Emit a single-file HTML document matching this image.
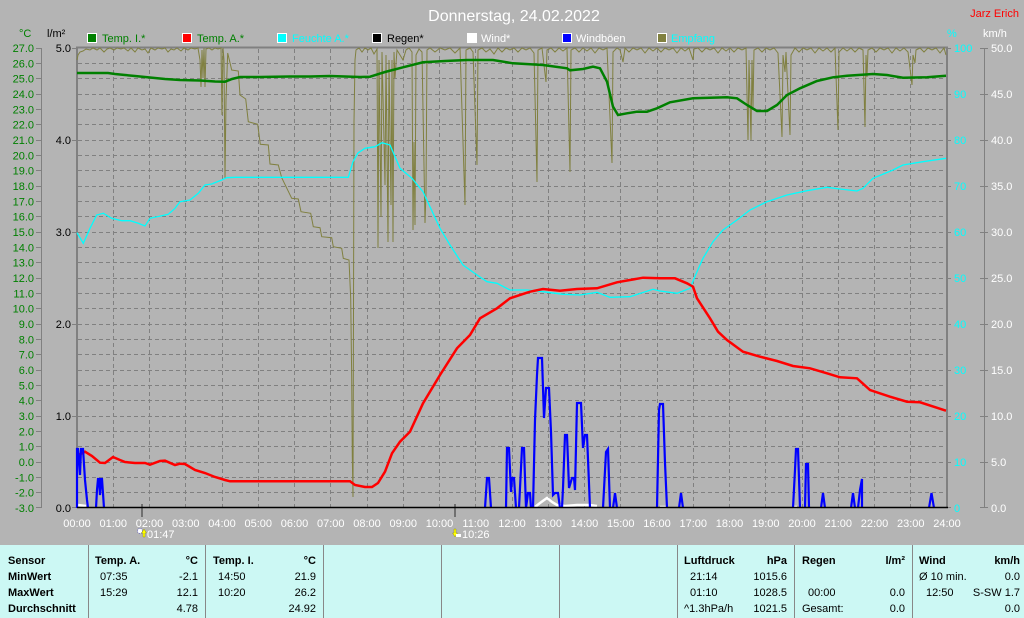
<!DOCTYPE html>
<html><head><meta charset="utf-8"><style>
html,body{margin:0;padding:0;background:#b4b4b4;}
svg{display:block;font-family:"Liberation Sans",Arial,sans-serif;}
</style></head><body>
<svg width="1024" height="618" viewBox="0 0 1024 618" xmlns="http://www.w3.org/2000/svg">
<rect x="0" y="0" width="1024" height="618" fill="#b4b4b4"/>
<!-- title -->
<text x="514" y="21" font-size="16" fill="#ffffff" text-anchor="middle">Donnerstag, 24.02.2022</text>
<text x="1019" y="17" font-size="11" fill="#ff0000" text-anchor="end">Jarz Erich</text>
<!-- axis headers -->
<text x="19" y="37" font-size="11" fill="#008000">°C</text>
<text x="47" y="37" font-size="11" fill="#000000">l/m²</text>
<text x="947" y="37" font-size="11" fill="#00ffff">%</text>
<text x="983" y="37" font-size="11" fill="#ffffff">km/h</text>
<!-- legend -->
<g font-size="11">
<rect x="87.5" y="33.5" width="9" height="9" fill="#008000" stroke="#fff"/><text x="102" y="42" fill="#008000">Temp. I.*</text>
<rect x="182.5" y="33.5" width="9" height="9" fill="#ff0000" stroke="#fff"/><text x="197" y="42" fill="#008000">Temp. A.*</text>
<rect x="277.5" y="33.5" width="9" height="9" fill="#00ffff" stroke="#fff"/><text x="292" y="42" fill="#00ffff">Feuchte A.*</text>
<rect x="372.5" y="33.5" width="9" height="9" fill="#000000" stroke="#fff"/><text x="387" y="42" fill="#000000">Regen*</text>
<rect x="467.5" y="33.5" width="9" height="9" fill="#ffffff" stroke="#fff"/><text x="481" y="42" fill="#ffffff">Wind*</text>
<rect x="562.5" y="33.5" width="9" height="9" fill="#0000ff" stroke="#fff"/><text x="576" y="42" fill="#ffffff">Windböen</text>
<rect x="657.5" y="33.5" width="9" height="9" fill="#808040" stroke="#fff"/><text x="671" y="42" fill="#00ffff">Empfang</text>
</g>
<!-- grid -->
<g stroke="#808080" stroke-width="1" stroke-dasharray="4,3" fill="none" shape-rendering="crispEdges">
<path d="M78 63.5H946M78 78.5H946M78 94.5H946M78 109.5H946M78 124.5H946M78 140.5H946M78 155.5H946M78 170.5H946M78 186.5H946M78 201.5H946M78 216.5H946M78 232.5H946M78 247.5H946M78 262.5H946M78 278.5H946M78 293.5H946M78 308.5H946M78 324.5H946M78 339.5H946M78 354.5H946M78 370.5H946M78 385.5H946M78 400.5H946M78 416.5H946M78 431.5H946M78 446.5H946M78 462.5H946M78 477.5H946M78 492.5H946"/>
<path d="M113.5 49V507M149.5 49V507M185.5 49V507M222.5 49V507M258.5 49V507M294.5 49V507M330.5 49V507M367.5 49V507M403.5 49V507M439.5 49V507M475.5 49V507M512.5 49V507M548.5 49V507M584.5 49V507M620.5 49V507M657.5 49V507M693.5 49V507M729.5 49V507M765.5 49V507M802.5 49V507M838.5 49V507M874.5 49V507M910.5 49V507"/>
</g>
<!-- left temperature axis -->
<g stroke="#808080" stroke-width="1" fill="none" shape-rendering="crispEdges">
<path d="M41.5 48V508"/>
<path d="M36 48.5H41M36 63.5H41M36 78.5H41M36 94.5H41M36 109.5H41M36 124.5H41M36 140.5H41M36 155.5H41M36 170.5H41M36 186.5H41M36 201.5H41M36 216.5H41M36 232.5H41M36 247.5H41M36 262.5H41M36 278.5H41M36 293.5H41M36 308.5H41M36 324.5H41M36 339.5H41M36 354.5H41M36 370.5H41M36 385.5H41M36 400.5H41M36 416.5H41M36 431.5H41M36 446.5H41M36 462.5H41M36 477.5H41M36 492.5H41M36 507.5H41"/>
<path d="M72 48.5H77M72 140.5H77M72 232.5H77M72 324.5H77M72 416.5H77M72 507.5H77"/>
<path d="M947 48.5H951M947 94.5H951M947 140.5H951M947 186.5H951M947 232.5H951M947 278.5H951M947 324.5H951M947 370.5H951M947 416.5H951M947 462.5H951M947 507.5H951"/>
<path d="M984.5 48V508"/>
<path d="M980 48.5H988M980 94.5H988M980 140.5H988M980 186.5H988M980 232.5H988M980 278.5H988M980 324.5H988M980 370.5H988M980 416.5H988M980 462.5H988M980 507.5H988"/>
</g>
<g font-size="11" fill="#008000" text-anchor="end">
<text x="34" y="52">27.0</text><text x="34" y="67.3">26.0</text><text x="34" y="82.7">25.0</text><text x="34" y="98">24.0</text><text x="34" y="113.3">23.0</text><text x="34" y="128.7">22.0</text><text x="34" y="144">21.0</text><text x="34" y="159.3">20.0</text><text x="34" y="174.7">19.0</text><text x="34" y="190">18.0</text><text x="34" y="205.3">17.0</text><text x="34" y="220.7">16.0</text><text x="34" y="236">15.0</text><text x="34" y="251.3">14.0</text><text x="34" y="266.7">13.0</text><text x="34" y="282">12.0</text><text x="34" y="297.3">11.0</text><text x="34" y="312.7">10.0</text><text x="34" y="328">9.0</text><text x="34" y="343.3">8.0</text><text x="34" y="358.7">7.0</text><text x="34" y="374">6.0</text><text x="34" y="389.3">5.0</text><text x="34" y="404.7">4.0</text><text x="34" y="420">3.0</text><text x="34" y="435.3">2.0</text><text x="34" y="450.7">1.0</text><text x="34" y="466">0.0</text><text x="34" y="481.3">-1.0</text><text x="34" y="496.7">-2.0</text><text x="34" y="512">-3.0</text>
</g>
<g font-size="11" fill="#000000" text-anchor="end">
<text x="71" y="52">5.0</text><text x="71" y="144">4.0</text><text x="71" y="236">3.0</text><text x="71" y="328">2.0</text><text x="71" y="420">1.0</text><text x="71" y="512">0.0</text>
</g>
<g font-size="11" fill="#00ffff">
<text x="954" y="52">100</text><text x="954" y="98">90</text><text x="954" y="144">80</text><text x="954" y="190">70</text><text x="954" y="236">60</text><text x="954" y="282">50</text><text x="954" y="328">40</text><text x="954" y="374">30</text><text x="954" y="420">20</text><text x="954" y="466">10</text><text x="954" y="512">0</text>
</g>
<g font-size="11" fill="#ffffff">
<text x="991" y="52">50.0</text><text x="991" y="98">45.0</text><text x="991" y="144">40.0</text><text x="991" y="190">35.0</text><text x="991" y="236">30.0</text><text x="991" y="282">25.0</text><text x="991" y="328">20.0</text><text x="991" y="374">15.0</text><text x="991" y="420">10.0</text><text x="991" y="466">5.0</text><text x="991" y="512">0.0</text>
</g>
<!-- time labels -->
<g font-size="11" fill="#ffffff" text-anchor="middle">
<text x="77" y="527">00:00</text><text x="113.25" y="527">01:00</text><text x="149.5" y="527">02:00</text><text x="185.75" y="527">03:00</text><text x="222" y="527">04:00</text><text x="258.25" y="527">05:00</text><text x="294.5" y="527">06:00</text><text x="330.75" y="527">07:00</text><text x="367" y="527">08:00</text><text x="403.25" y="527">09:00</text><text x="439.5" y="527">10:00</text><text x="475.75" y="527">11:00</text><text x="512" y="527">12:00</text><text x="548.25" y="527">13:00</text><text x="584.5" y="527">14:00</text><text x="620.75" y="527">15:00</text><text x="657" y="527">16:00</text><text x="693.25" y="527">17:00</text><text x="729.5" y="527">18:00</text><text x="765.75" y="527">19:00</text><text x="802" y="527">20:00</text><text x="838.25" y="527">21:00</text><text x="874.5" y="527">22:00</text><text x="910.75" y="527">23:00</text><text x="947" y="527">24:00</text>
</g>
<!-- sunrise / sunset markers -->
<rect x="141" y="504" width="2" height="13" fill="#707070"/>
<rect x="454" y="504" width="2" height="13" fill="#707070"/>
<circle cx="140" cy="531" r="2.5" fill="#ffffff" stroke="#6060c0" stroke-width="0.8" stroke-dasharray="1,1"/>
<path d="M144 529 L141.5 533 L143 533 L143 537 L145 537 L145 533 L146.5 533 Z" fill="#ffff00" stroke="#808000" stroke-width="0.4"/>
<text x="147" y="538" font-size="11" fill="#ffffff">01:47</text>
<path d="M455 537 L452.5 533 L454 533 L454 529 L456 529 L456 533 L457.5 533 Z" fill="#ffff00" stroke="#808000" stroke-width="0.4"/>
<rect x="456" y="534" width="5" height="3" fill="#ffffff"/>
<text x="462" y="538" font-size="11" fill="#ffffff">10:26</text>
<!-- plot frame -->
<path d="M76 47.5H948" stroke="#808080" stroke-width="2" fill="none"/>
<path d="M77 47V508" stroke="#808080" stroke-width="2" fill="none"/>
<path d="M947 47V508" stroke="#808080" stroke-width="2" fill="none"/>
<!-- Empfang (olive) -->
<polyline fill="none" stroke="#808040" stroke-width="1" stroke-linejoin="miter" points="77,60 78,55 80,52 83,51 86,49 90,50 93,48 97,50 100,48 104,52 107,49 110,48 114,50 117,48 121,49 124,48 128,51 131,48 135,52 138,48 142,50 145,49 148,53 151,48 155,50 158,48 162,49 165,48 168,52 171,49 174,50 177,48 181,51 184,48 188,50 191,48 195,49 198,48 200,60 201,87 202,50 203,78 204,48 205,87 206,49 209,48 212,50 215,48 218,49 221,48 222,115 223,48 224,60 225,178 226,100 227.7,53 231.7,70 238.3,71 240,95 245.7,99 248.3,121.7 257.7,124.3 260.3,144.3 268.3,145 270,164 278.3,165 281.7,177.7 291.7,198.3 298.3,199 301,211.7 310.7,213.3 313.3,226.7 320,227.7 321.7,236.7 331.7,237.7 333.3,246.7 341.7,248.3 343.3,258.3 349,260 350.7,298.3 351.7,378 352.3,457 353,497 354,122 355,60 356,50 359,48 362,52 365,48 368,50 371,48 374,54 377,49 378,248 379,60 381,217 382,52 385,185 386,55 388,242 389,60 391,205 392,60 393,242 394,52 395,78 397,50 400,55 403,60 406,50 409,48 412,52 413,230 414,142 415,225 416,55 419,49 422,52 425,223 426,193 427,50 430,48 435,52 440,48 445,50 450,48 455,53 460,48 465,205 466,50 470,48 473,52 477,165 478,50 482,48 486,52 490,49 494,54 498,48 502,52 506,48 510,50 514,48 518,52 522,48 526,50 530,48 534,53 537,182 538,50 542,48 546,82 547,50 551,48 555,52 559,48 563,51 567,48 570,172 571,50 575,48 579,52 583,48 587,51 591,48 595,53 599,48 603,50 607,48 612,163 613,52 617,48 620,50 623,62 625,48 629,52 633,48 637,50 641,48 645,53 649,48 653,51 657,48 661,52 665,48 669,50 673,48 677,53 681,48 685,51 689,48 693,60 694,49 698,48 702,52 706,48 710,50 714,48 718,53 722,48 726,51 730,48 734,52 738,48 742,50 746,48 748,140 749,60 751,140 752,60 753,108 754,50 758,48 762,52 766,48 770,50 774,48 778,53 782,137 783,55 785,72 786,52 790,135 791,55 795,48 799,52 803,48 807,50 811,48 815,53 819,48 823,51 827,48 831,52 835,48 838,130 839,52 843,48 847,51 851,48 855,52 859,48 863,50 865,127 866,55 867,77 868,50 872,48 876,52 880,48 884,50 888,48 892,53 896,48 900,51 904,48 908,52 912,85 913,55 915,63 916,50 920,48 924,52 928,48 932,50 936,48 940,53 944,48 946,55"/>
<!-- Feuchte (cyan) -->
<polyline fill="none" stroke="#00ffff" stroke-width="1.3" points="77,232.7 83.3,243.3 90,228.3 96.7,215 103.3,213.3 111.7,218.3 121.7,220.7 130,220.7 138.3,223.3 145,226 150,218.3 161.7,215.7 168.3,214.3 175,208.3 180,201.7 190,200 198.3,193.3 205,185 211.7,184 221.7,180 226.7,177.7 235,177.3 348.3,177.3 353,161.7 358,153 365,148.3 375,146.7 382,142.7 390,145 400,168.3 412,178.3 423,191.7 440,228.3 450,245 463,265 477,275 487,281.7 497,283.3 510,290 527,290 543,291.7 563,294.3 580,295 597,292.3 610,297.3 630,296.7 653,289.3 660,291 677,293.3 690,288.3 697,271.7 703,258.3 713,241.7 723,230 737,220 750,210 767,201.7 787,195 807,190.7 827,187.3 840,189 857,191 863,188.3 873,178.3 893,170 903,165 923,161.7 946,158.3"/>
<!-- Temp I (green) -->
<polyline fill="none" stroke="#008000" stroke-width="2.5" points="77,73 108,73 115,74 125,75 135,76 150,77.5 165,79 180,80 200,80.5 215,81.5 225,81.7 232,79 240,77 260,77 290,76.5 310,76.5 330,76 345,76.5 360,77 370,76.7 385,72 403,67.3 423,62.3 445,61 467,60 493,60 513,63.3 543,65 567,68.3 570,70.3 583,69 593,66.7 600,68.3 607,81.7 613,106.7 618,115 627,113.3 637,111.7 647,111.7 657,108.3 670,102.3 693,98.3 727,97.3 737,98.3 747,105 757,111 767,111 777,105 787,95 800,88.3 817,81 833,77.3 847,75.7 873,74 887,75 903,77.7 927,77.3 946,75.7"/>
<!-- Temp A (red) -->
<polyline fill="none" stroke="#ff0000" stroke-width="2.5" points="77,455.7 85,451.7 92,456 100,462.7 105,463 113,457 120,460 125,462 135,463 145,463 150,464.7 160,461 165,460.7 175,465 180,463.7 185,464 195,470 205,473 215,477 225,480 230,481.3 350,481.3 355,485 365,487 372,487 378,483 385,471.7 392,453.3 400,441.7 410,431.7 423,403.3 440,375 457,348.3 470,335 480,318.3 497,308.3 510,298.3 530,291.7 543,289 560,290.7 577,289 597,288.3 617,282.3 643,277.7 660,278.3 675,278.3 687,283.3 693,286.7 697,298.3 710,318.3 718,331.7 727,340 743,351.7 760,356.7 777,361 793,366 810,368.3 827,373.3 840,377.3 857,378.3 870,390 890,396.7 907,401.7 920,402.3 946,410.7"/>
<!-- Wind (white) -->
<g fill="none" stroke="#ffffff" stroke-width="2.5">
<polyline points="78,505 86,506"/>
<polyline points="535,507 540,503 547,498 552,502 557,505 565,506 577,505 590,505 597,506"/>
<polyline points="660,507 667,507"/>
<polyline points="793,507 797,507"/>
</g>
<!-- Windboeen (blue) -->
<g fill="none" stroke="#0000ff" stroke-width="2.2" stroke-linejoin="miter">
<polyline points="77,508 77,449 78,449 80,475 81,449 83,449 85,480 87,500 88,508"/>
<polyline points="96,508 97,490 98,479 99,479 100,495 101,479 102,479 104,508"/>
<polyline points="485,508 487,478 489,478 491,508"/>
<polyline points="506,508 507,448 509,448 511,492 512,478 514,478 516,508"/>
<polyline points="519,508 522,448 524,448 526,508 528,493 530,493 531,508"/>
<polyline points="533,508 535,420 537,375 538,358 542,358 544,418 546,388 549,388 551,432 553,495 555,493 558,493 560,508"/>
<polyline points="562,508 563,488 565,435 567,435 569,488 572,478 574,478 575,490 577,403 581,403 583,448 585,435 587,435 590,508"/>
<polyline points="603,508 606,452 608,449 610,508"/>
<polyline points="613,508 615,493 617,508"/>
<polyline points="657,508 659,410 660,404 663,404 665,463 667,508"/>
<polyline points="679,508 681,493 683,508"/>
<polyline points="793,508 795,470 796,449 798,449 800,508"/>
<polyline points="805,508 806,464 808,464 809,508"/>
<polyline points="821,508 823,493 825,508"/>
<polyline points="851,508 853,493 855,508"/>
<polyline points="858,508 860,490 862,479 862,508"/>
<polyline points="929,508 931.5,493 934,508"/>
</g>
<!-- bottom axis line -->
<path d="M77 507.5H948" stroke="#000000" stroke-width="1.5"/>
<!-- table -->
<rect x="0" y="545" width="1024" height="73" fill="#ccf8f4"/>
<g stroke="#888888" stroke-width="1" shape-rendering="crispEdges">
<path d="M88.5 545V618M205.5 545V618M323.5 545V618M441.5 545V618M559.5 545V618M677.5 545V618M794.5 545V618M912.5 545V618"/>
</g>
<g font-size="11" fill="#000000">
<g font-weight="bold">
<text x="8" y="564">Sensor</text><text x="8" y="580">MinWert</text><text x="8" y="596">MaxWert</text><text x="8" y="612">Durchschnitt</text>
<text x="95" y="564">Temp. A.</text><text x="198" y="564" text-anchor="end">°C</text>
<text x="213" y="564">Temp. I.</text><text x="316" y="564" text-anchor="end">°C</text>
<text x="684" y="564">Luftdruck</text><text x="787" y="564" text-anchor="end">hPa</text>
<text x="802" y="564">Regen</text><text x="905" y="564" text-anchor="end">l/m²</text>
<text x="919" y="564">Wind</text><text x="1020" y="564" text-anchor="end">km/h</text>
</g>
<text x="100" y="580">07:35</text><text x="198" y="580" text-anchor="end">-2.1</text>
<text x="100" y="596">15:29</text><text x="198" y="596" text-anchor="end">12.1</text>
<text x="198" y="612" text-anchor="end">4.78</text>
<text x="218" y="580">14:50</text><text x="316" y="580" text-anchor="end">21.9</text>
<text x="218" y="596">10:20</text><text x="316" y="596" text-anchor="end">26.2</text>
<text x="316" y="612" text-anchor="end">24.92</text>
<text x="690" y="580">21:14</text><text x="787" y="580" text-anchor="end">1015.6</text>
<text x="690" y="596">01:10</text><text x="787" y="596" text-anchor="end">1028.5</text>
<text x="684" y="612">^1.3hPa/h</text><text x="787" y="612" text-anchor="end">1021.5</text>
<text x="808" y="596">00:00</text><text x="905" y="596" text-anchor="end">0.0</text>
<text x="802" y="612">Gesamt:</text><text x="905" y="612" text-anchor="end">0.0</text>
<text x="919" y="580">Ø 10 min.</text><text x="1020" y="580" text-anchor="end">0.0</text>
<text x="926" y="596">12:50</text><text x="1020" y="596" text-anchor="end">S-SW 1.7</text>
<text x="1020" y="612" text-anchor="end">0.0</text>
</g>
</svg>
</body></html>
